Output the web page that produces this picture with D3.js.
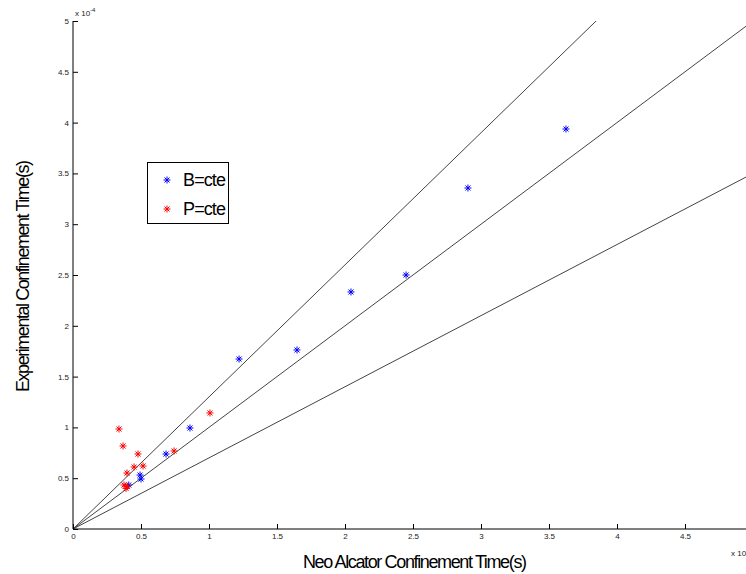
<!DOCTYPE html>
<html><head><meta charset="utf-8">
<script src="https://cdn.jsdelivr.net/npm/d3@7"></script>
<style>body{margin:0;background:#fff}svg{display:block}text{font-family:"Liberation Sans",Arial,sans-serif}</style>
</head><body>
<script>
const xTicks=[0,0.5,1,1.5,2,2.5,3,3.5,4,4.5];
const yTicks=[0,0.5,1,1.5,2,2.5,3,3.5,4,4.5,5];
const slopes=[1.3,1.0,0.7];
const bX=[3.625,2.904,2.449,2.044,1.647,1.221,0.860,0.684,0.493,0.500,0.410];
const bY=[3.937,3.356,2.500,2.333,1.762,1.673,0.994,0.738,0.531,0.492,0.433];
const pX=[1.007,0.338,0.368,0.478,0.449,0.515,0.743,0.397,0.375,0.390,0.400];
const pY=[1.142,0.984,0.817,0.738,0.610,0.620,0.768,0.551,0.433,0.400,0.420];
const seriesNames=["B=cte","P=cte"];
const colors=["#0000ff","#ff0000"];

const W=746,H=574;
const svg=d3.select("body").append("svg").attr("width",W).attr("height",H);
const x=d3.scaleLinear().domain([0,5]).range([73,753]);
const y=d3.scaleLinear().domain([0,5]).range([529,21]);

svg.append("clipPath").attr("id","clip").append("rect")
  .attr("x",73).attr("y",21).attr("width",680).attr("height",508);

// reference lines
const g=svg.append("g").attr("clip-path","url(#clip)");
slopes.forEach(s=>{
  g.append("line").attr("x1",x(0)).attr("y1",y(0)).attr("x2",x(5)).attr("y2",y(5*s))
   .attr("stroke","#444").attr("stroke-width",1);
});

// axes
const xAxis=d3.axisBottom(x).tickValues(xTicks).tickSize(-5).tickPadding(4).tickFormat(d3.format("~g"));
const yAxis=d3.axisLeft(y).tickValues(yTicks).tickSize(-5).tickPadding(4).tickFormat(d3.format("~g"));
const gx=svg.append("g").attr("transform","translate(0,529)").call(xAxis);
const gy=svg.append("g").attr("transform","translate(73,0)").call(yAxis);
[gx,gy].forEach(a=>{
  a.select(".domain").attr("stroke","#000").attr("stroke-width",1);
  a.selectAll(".tick line").attr("stroke","#000");
  a.selectAll(".tick text").attr("fill","#222").style("font-size","8px").style("font-family","Liberation Sans, Arial, sans-serif");
});
gx.select(".domain").attr("d","M73,0H753");
gy.select(".domain").attr("d","M0,21V529");

// exponents
const e1=svg.append("text").attr("x",75).attr("y",16).attr("font-size",8).attr("fill","#222");
e1.append("tspan").text("x 10");
e1.append("tspan").attr("dy",-4).attr("font-size",6).text("-4");
svg.append("text").attr("x",731).attr("y",556).attr("font-size",8).attr("fill","#222").text("x 10");

// markers
function star(sel,cx,cy,color){
  const r=3.5,d=2.5;
  const p=`M${cx-r},${cy}H${cx+r}M${cx},${cy-r}V${cy+r}M${cx-d},${cy-d}L${cx+d},${cy+d}M${cx-d},${cy+d}L${cx+d},${cy-d}`;
  sel.append("path").attr("d",p).attr("stroke",color).attr("stroke-width",1).attr("fill","none");
}
const mk=svg.append("g");
bX.forEach((v,i)=>star(mk,x(v),y(bY[i]),colors[0]));
pX.forEach((v,i)=>star(mk,x(v),y(pY[i]),colors[1]));

// legend
const lg=svg.append("g");
lg.append("rect").attr("x",147.5).attr("y",162.5).attr("width",81).attr("height",61)
  .attr("fill","#fff").attr("stroke","#000").attr("stroke-width",1);
seriesNames.forEach((n,i)=>{
  const cy=180+i*29;
  star(lg,167,cy,colors[i]);
  lg.append("text").attr("x",183).attr("y",cy+6).attr("font-size",18).attr("fill","#000")
    .attr("textLength",43).attr("lengthAdjust","spacing").text(n);
});

// axis titles
svg.append("text").attr("x",415).attr("y",568).attr("text-anchor","middle").attr("font-size",18)
  .attr("textLength",224).attr("lengthAdjust","spacing").text("Neo Alcator Confinement Time(s)");
svg.append("text").attr("transform","translate(29,276) rotate(-90)").attr("text-anchor","middle").attr("font-size",18)
  .attr("textLength",232).attr("lengthAdjust","spacing").text("Experimental Confinement Time(s)");
</script>
</body></html>
